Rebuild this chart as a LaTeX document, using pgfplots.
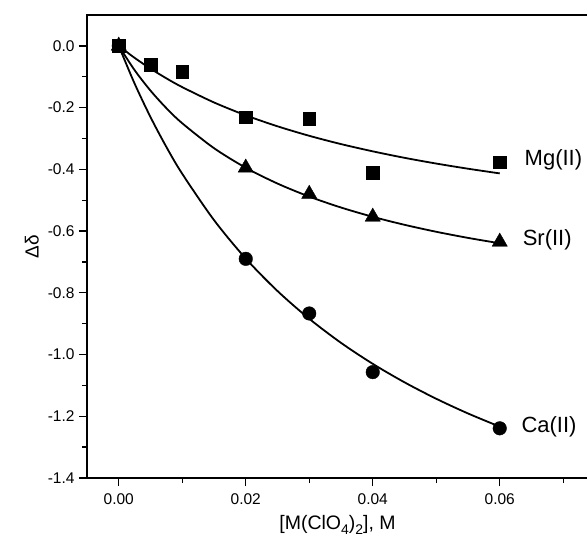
\documentclass[border=0pt]{standalone}
\usepackage{fontspec}
\setmainfont{Liberation Sans}
\usepackage{pgfplots}
\usepackage{pgfplotstable}
\pgfplotsset{compat=1.18}

% measured chemical shift changes
\pgfplotstableread{
c      d
0      0
0.005  -0.062
0.01   -0.085
0.02   -0.231
0.03   -0.237
0.04   -0.412
0.06   -0.377
}\mgdata
\pgfplotstableread{
c      d
0      0
0.02   -0.395
0.03   -0.480
0.04   -0.554
0.06   -0.635
}\srdata
\pgfplotstableread{
c      d
0      0
0.02   -0.690
0.03   -0.867
0.04   -1.057
0.06   -1.239
}\cadata

% fitted binding curves
\pgfplotstableread{
c       d
0       0
0.0025  -0.0389
0.005   -0.0738
0.0075  -0.1052
0.01    -0.1337
0.015   -0.1833
0.02    -0.2250
0.025   -0.2606
0.03    -0.2914
0.035   -0.3182
0.04    -0.3417
0.045   -0.3627
0.05    -0.3813
0.055   -0.3980
0.06    -0.4132
}\mgfit
\pgfplotstableread{
c       d
0       0
0.0025  -0.0787
0.005   -0.1450
0.0075  -0.2018
0.01    -0.2508
0.015   -0.3314
0.02    -0.3949
0.025   -0.4461
0.03    -0.4883
0.035   -0.5237
0.04    -0.5538
0.045   -0.5797
0.05    -0.6023
0.055   -0.6221
0.06    -0.6396
}\srfit
\pgfplotstableread{
c       d
0       0
0.0025  -0.1223
0.005   -0.2307
0.0075  -0.3275
0.01    -0.4145
0.015   -0.5644
0.02    -0.6890
0.025   -0.7942
0.03    -0.8841
0.035   -0.9621
0.04    -1.0301
0.045   -1.0900
0.05    -1.1433
0.055   -1.1909
0.06    -1.2336
}\cafit

\newcommand{\sub}[1]{\raisebox{-0.5ex}{\fontsize{14bp}{14bp}\selectfont #1}}

\begin{document}
\begin{tikzpicture}
\begin{axis}[
  name=ax,
  scale only axis,
  width=501bp, height=463bp,
  xmin=-0.005, xmax=0.0739,
  ymin=-1.4, ymax=0.1,
  scaled x ticks=false,
  scaled y ticks=false,
  axis line style={line width=1.6bp},
  tick align=outside,
  tick pos=left,
  major tick length=8bp,
  minor tick length=5bp,
  every tick/.style={black, line width=1.3bp},
  xtick={0,0.02,0.04,0.06},
  xticklabels={0.00,0.02,0.04,0.06},
  minor xtick={0.01,0.03,0.05,0.07},
  ytick={-1.4,-1.2,-1.0,-0.8,-0.6,-0.4,-0.2,0},
  yticklabels={-1.4,-1.2,-1.0,-0.8,-0.6,-0.4,-0.2,0.0},
  minor ytick={-1.3,-1.1,-0.9,-0.7,-0.5,-0.3,-0.1},
  ticklabel style={font=\fontsize{15.5bp}{17bp}\selectfont},
  xticklabel style={yshift=-4bp},
  yticklabel style={xshift=-1bp},
  xlabel={[M(ClO\sub{4})\sub{2}], M},
  xlabel style={font=\fontsize{19.5bp}{21bp}\selectfont, yshift=-4bp},
  ylabel={Δδ},
  ylabel style={font=\fontsize{19bp}{21bp}\selectfont, yshift=2bp},
  every axis plot/.append style={black},
  clip=false,
]
\addplot[no marks, smooth, line width=1.8bp] table[x=c,y=d] {\mgfit};
\addplot[no marks, smooth, line width=1.8bp] table[x=c,y=d] {\srfit};
\addplot[no marks, smooth, line width=1.8bp] table[x=c,y=d] {\cafit};

\addplot[only marks, mark=square*, mark size=6.4bp, mark options={fill=black, draw=black}] table[x=c,y=d] {\mgdata};
\addplot[only marks, mark=triangle*, mark size=8.8bp, mark options={fill=black, draw=black}] table[x=c,y=d] {\srdata};
\addplot[only marks, mark=*, mark size=6.8bp, mark options={fill=black, draw=black}] table[x=c,y=d] {\cadata};

\node[anchor=west, inner sep=0pt, font=\fontsize{22bp}{24bp}\selectfont] at (axis cs:0.0639,-0.370) {Mg(II)};
\node[anchor=west, inner sep=0pt, font=\fontsize{22bp}{24bp}\selectfont] at (axis cs:0.0636,-0.628) {Sr(II)};
\node[anchor=west, inner sep=0pt, font=\fontsize{22bp}{24bp}\selectfont] at (axis cs:0.0634,-1.233) {Ca(II)};
\end{axis}
\pgfresetboundingbox
\useasboundingbox ([shift={(-87bp,-66bp)}]ax.south west) rectangle ([shift={(-1bp,15bp)}]ax.north east);
\end{tikzpicture}
\end{document}
